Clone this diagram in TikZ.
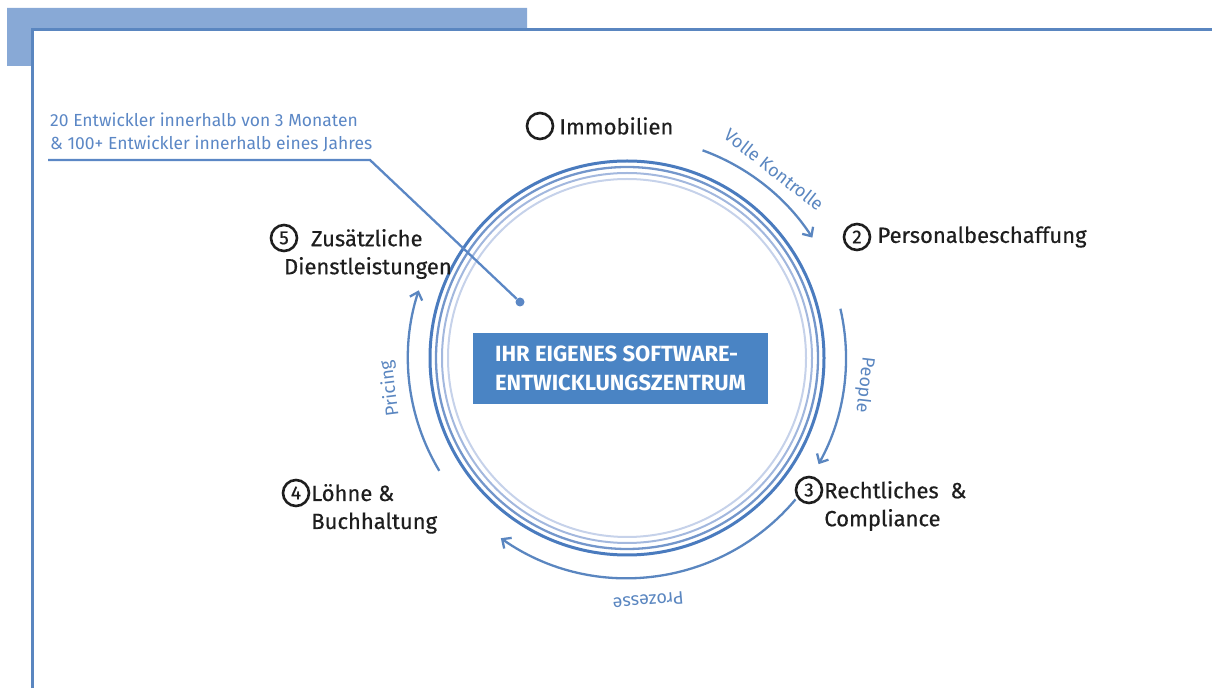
\documentclass[tikz,border=0pt]{standalone}
\usepackage{fontspec}
\setmainfont{Fira Sans}
\newfontfamily\stepfont{Fira Sans}[FakeBold=0.5]
\usetikzlibrary{positioning,arrows.meta,calc}
\definecolor{frameblue}{HTML}{5A86C0}
\definecolor{tabblue}{HTML}{88A9D6}
\definecolor{boxblue}{HTML}{4A84C4}
\definecolor{ringA}{HTML}{4A7BBE}
\definecolor{ringB}{HTML}{7396CB}
\definecolor{ringC}{HTML}{A3B8DE}
\definecolor{ringD}{HTML}{C6D2EA}
\definecolor{noteblue}{HTML}{5B87C5}
\definecolor{inkgray}{HTML}{1E1E1E}

\begin{document}
\begin{tikzpicture}[x=1pt,y=1pt,
	numnode/.style={circle,draw=inkgray,line width=2.6pt,minimum size=26pt,inner sep=0pt,text=inkgray,font=\stepfont\fontsize{19}{19}\selectfont},
	stepname/.style={font=\stepfont\fontsize{22}{28}\selectfont,text=inkgray,align=left,inner sep=0pt},
	flow/.style={draw=frameblue,line width=2.3pt,-{Straight Barb[length=7pt,width=13pt,line width=2.3pt]}},
	flowlabel/.style={text=frameblue,font=\fontsize{18}{18}\selectfont,inner sep=0pt},
	notetext/.style={text=noteblue,font=\fontsize{17.5}{23}\selectfont,align=left,inner sep=0pt},
	hubbox/.style={fill=boxblue,text=white,font=\bfseries\fontsize{22}{29}\selectfont,align=left,minimum width=295pt,minimum height=71pt}
]
\useasboundingbox (0,0) rectangle (1212,688);
% frame
\fill[tabblue] (7,680) -- (527,680) -- (527,658) -- (31,658) -- (31,622) -- (7,622) -- cycle;
\draw[frameblue,line width=3pt] (32,0) -- (32,658) -- (1212,658);

% rings
\coordinate (c) at (627,330);
\draw[ringD,line width=2pt] (c) circle (179);
\draw[ringC,line width=2pt] (c) circle (185);
\draw[ringB,line width=2.3pt] (c) circle (191);
\draw[ringA,line width=3pt] (c) circle (197);

\node[hubbox] (hub) at (620.5,319.5) {IHR EIGENES SOFTWARE-\\ENTWICKLUNGSZENTRUM};

% steps
\node[numnode] (n1) at (540,562) {};
\node[stepname,right=5pt of n1] (s1) {Immobilien};
\node[numnode] (n2) at (857,451) {2};
\node[stepname,right=6pt of n2] (s2) {Personalbeschaffung};
\node[numnode] (n3) at (809,198) {3};
\node[stepname,anchor=north west] (s3) at ($(n3.north east)+(5,-1)$) {Rechtliches\ \ \&\\Compliance};
\node[numnode] (n4) at (296,195) {4};
\node[stepname,anchor=north west] (s4) at ($(n4.north east)+(5,-1)$) {Löhne \&\\Buchhaltung};
\node[numnode] (n5) at (284,450) {5};
\node[stepname,anchor=north west] (s5) at ($(n5.north west)+(10,-1)$) {\hspace*{27pt}Zusätzliche\\Dienstleistungen};

% flow arrows
\draw[flow] ($(c)+(70:221)$) arc (70:33:221);
\draw[flow] ($(c)+(13:219)$) arc (13:-29:219);
\draw[flow] ($(c)+(-40:220)$) arc (-40:-125:220);
\draw[flow] ($(c)+(-149:219)$) arc (-149:-198:219);
\node[flowlabel,rotate=-38] (l1) at ($(c)+(52:239)$) {Volle Kontrolle};
\node[flowlabel,rotate=-96.5] (l2) at ($(c)+(-6.5:239)$) {People};
\node[flowlabel,rotate=-175] (l3) at ($(c)+(-85:244)$) {Prozesse};
\node[flowlabel,rotate=97.3] (l4) at ($(c)+(-172.7:239)$) {Pricing};

% note
\node[notetext,anchor=south west] (note) at (50,536) {20 Entwickler innerhalb von 3 Monaten\\\& 100+ Entwickler innerhalb eines Jahres};
\node[circle,fill=noteblue,inner sep=0pt,minimum size=9pt] (pin) at (520,386) {};
\coordinate (bend) at (370,528);
\draw[noteblue,line width=2.3pt] (48,528) -- (bend) -- (pin);
\end{tikzpicture}
\end{document}
